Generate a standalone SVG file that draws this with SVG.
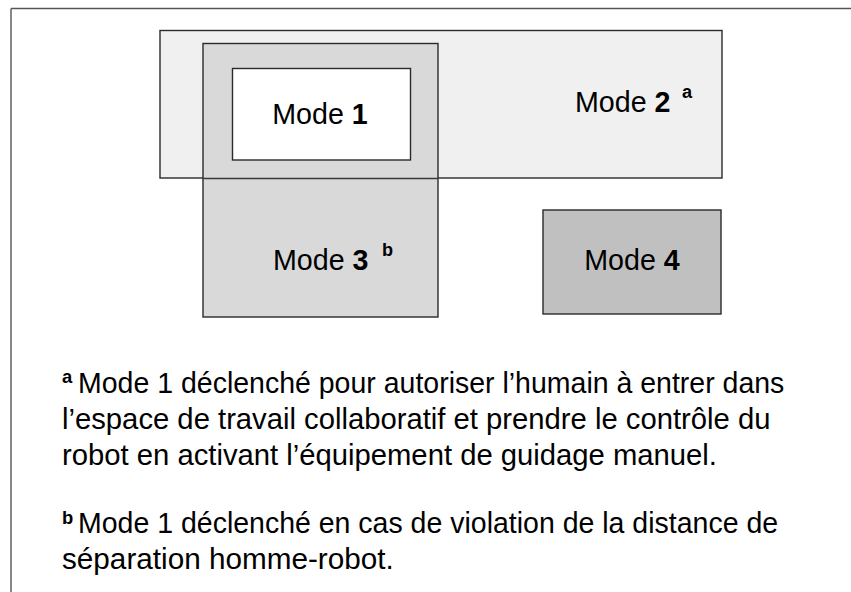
<svg xmlns="http://www.w3.org/2000/svg" width="851" height="592" viewBox="0 0 851 592">
  <style>
    .box { stroke: #2a2a2a; stroke-width: 1.4; }
    .lbl { font-family: "Liberation Sans", Arial, sans-serif; font-size: 30px; fill: #000; }
    .num { font-weight: bold; }
    .sup { font-family: "Liberation Sans", Arial, sans-serif; font-size: 19px; font-weight: bold; fill: #000; }
    .note { font-family: "Liberation Sans", Arial, sans-serif; font-size: 30px; fill: #000; }
  </style>
  <rect width="851" height="592" fill="#fff"/>
  <!-- frame: top and left rules -->
  <g id="frame" stroke="#555" stroke-width="1.4" fill="none">
    <line x1="11" y1="8.5" x2="851" y2="8.5"/>
    <line x1="11" y1="8.5" x2="11" y2="592"/>
  </g>
  <g id="mode2">
    <rect class="box" x="160" y="30.5" width="562" height="147.5" fill="#f0f0f0"/>
    <text class="lbl" transform="translate(575 112) scale(0.955 1)">Mode <tspan class="num">2</tspan></text>
    <text class="sup" transform="translate(682 98) scale(0.955 1)">a</text>
  </g>
  <g id="mode3">
    <rect class="box" x="203" y="43.5" width="235" height="273.5" fill="#d9d9d9"/>
    <line x1="203" y1="178.5" x2="438" y2="178.5" stroke="#3a3a3a" stroke-width="1.4"/>
    <text class="lbl" transform="translate(273 270) scale(0.955 1)">Mode <tspan class="num">3</tspan></text>
    <text class="sup" transform="translate(382 256) scale(0.955 1)">b</text>
  </g>
  <g id="mode1">
    <rect class="box" x="232.5" y="68.5" width="178" height="91.5" fill="#fff"/>
    <text class="lbl" text-anchor="middle" transform="translate(320 124) scale(0.955 1)">Mode <tspan class="num">1</tspan></text>
  </g>
  <g id="mode4">
    <rect class="box" x="543" y="210" width="178" height="104" fill="#c0c0c0"/>
    <text class="lbl" text-anchor="middle" transform="translate(632 270) scale(0.955 1)">Mode <tspan class="num">4</tspan></text>
  </g>
  <g id="notes">
    <text class="sup" transform="translate(62 383) scale(0.97 1)">a</text>
    <text class="note" transform="translate(78 393) scale(0.95 1)">Mode 1 déclenché pour autoriser l’humain à entrer dans</text>
    <text class="note" transform="translate(62 429) scale(0.975 1)">l’espace de travail collaboratif et prendre le contrôle du</text>
    <text class="note" transform="translate(62 465) scale(0.975 1)">robot en activant l’équipement de guidage manuel.</text>
    <text class="sup" transform="translate(62 524) scale(0.97 1)">b</text>
    <text class="note" transform="translate(78 533) scale(0.95 1)">Mode 1 déclenché en cas de violation de la distance de</text>
    <text class="note" transform="translate(62 569) scale(0.99 1)">séparation homme-robot.</text>
  </g>
</svg>
